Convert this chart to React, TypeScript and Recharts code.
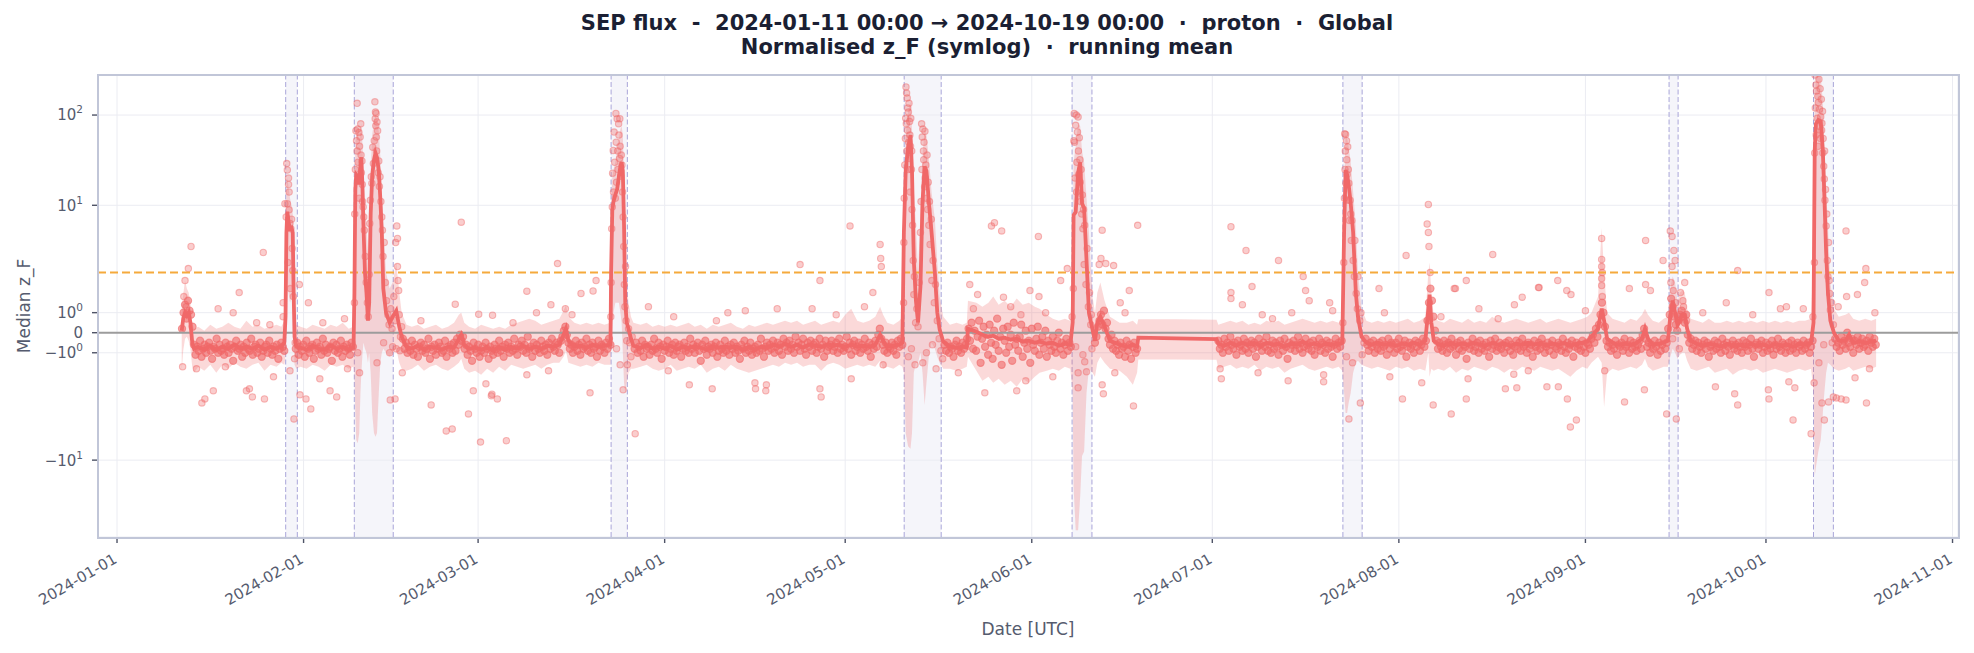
import React from "react";
import {
  ComposedChart,
  XAxis,
  YAxis,
  CartesianGrid,
  Line,
  Area,
  Scatter,
  ReferenceArea,
  ReferenceLine,
} from "recharts";

// x values are days since 2024-01-01 (UTC)
const monthTicks = [0, 31, 60, 91, 121, 152, 182, 213, 244, 274, 305];
const monthLabels = [
  "2024-01-01", "2024-02-01", "2024-03-01", "2024-04-01", "2024-05-01", "2024-06-01",
  "2024-07-01", "2024-08-01", "2024-09-01", "2024-10-01", "2024-11-01",
];
const xDomain: [number, number] = [-3.16, 305.91];

// symlog axis (linthresh 5, linscale 1, base 10)
const linthresh = 5;
const linscaleAdj = 1 / (1 - 1 / 10);
const symlog = (v: number) => {
  const a = Math.abs(v);
  if (a <= linthresh) return v * linscaleAdj;
  return Math.sign(v) * linthresh * (linscaleAdj + Math.log10(a / linthresh));
};

const yTickValues = [-10, -1, 0, 1, 10, 100];
const yTickBase = ["\u221210", "\u221210", "0", "10", "10", "10"];
const yTickExp = ["1", "0", "", "0", "1", "2"];
const yDomain: [number, number] = [-11.32, 14.28];

const threshold = 3;

// flagged SEP event windows
const eventStarts = [28.03, 39.43, 82.1, 130.8, 158.7, 203.7, 257.9, 281.9];
const eventEnds = [29.96, 45.9, 84.8, 136.95, 162.0, 206.9, 259.4, 285.2];

// running mean: [day, mean, band low, band high]
const runningMean: [number, number, number, number][] = [
  [10.75, 0.1, -1.9, 1.3], [11.0, 0.7, -0.9, 1.9], [11.3, 1.0, -0.3, 2.6], [11.6, 0.85, -0.2, 2.2],
  [11.9, 1.0, -0.4, 2.0], [12.2, 0.5, -0.8, 1.5], [12.5, -0.5, -1.7, 0.5], [12.8, -0.8, -2.0, 0.2],
  [13.5, -0.7, -1.7, 0.3], [14.5, -0.85, -1.9, 0.1], [15.5, -0.65, -1.6, 0.4], [16.5, -0.85, -2.0, 0.2],
  [17.5, -0.7, -1.6, 0.3], [18.5, -0.8, -1.8, 0.5], [19.5, -0.6, -1.5, 0.3], [20.5, -0.8, -1.7, 0.2],
  [21.5, -0.7, -1.8, 0.6], [22.5, -0.8, -1.6, 0.3], [23.5, -0.65, -1.5, 0.4], [24.5, -0.85, -1.9, 0.2],
  [25.5, -0.7, -1.6, 0.3], [26.5, -0.8, -1.7, 0.4], [27.3, -0.7, -1.5, 0.3], [27.8, -0.5, -1.6, 0.6],
  // event 1
  [28.0, 0.8, -1.2, 3], [28.15, 5, 0.5, 15], [28.3, 8.5, 2.5, 20], [28.5, 6.5, 2, 16],
  [28.75, 5.5, 1.5, 12], [29.0, 5.6, 1.8, 10], [29.2, 5, 1.2, 8], [29.35, 2, -0.5, 4.5],
  [29.5, -0.2, -1.6, 1.2], [29.8, -0.7, -1.8, 0.4],
  [30.5, -0.75, -1.7, 0.3], [31.5, -0.85, -1.8, 0.2], [32.5, -0.65, -1.6, 0.4], [33.5, -0.8, -1.7, 0.3],
  [34.5, -0.85, -1.9, 0.2], [35.5, -0.65, -1.6, 0.4], [36.5, -0.8, -1.7, 0.3], [37.5, -0.7, -1.6, 0.5],
  [38.5, -0.85, -1.8, 0.2], [39.3, -0.75, -1.7, 0.3],
  // event 2
  [39.45, 2, -2, 8], [39.6, 15, -4, 45], [39.75, 22, -6, 60], [40.0, 21, -6.5, 65],
  [40.25, 17, -5, 50], [40.45, 28, -3, 70], [40.6, 34, -2, 80], [40.8, 15, -1, 45],
  [40.95, 6, -0.5, 20], [41.2, 3, -0.8, 9], [41.45, 2, -1, 6], [41.7, 0.6, -1.5, 4],
  [41.9, 1.5, -1, 6], [42.15, 8, -2, 25], [42.4, 21, -4, 60], [42.7, 32, -5, 85],
  [42.95, 38, -5.5, 100], [43.2, 34, -5, 90], [43.5, 24, -3, 65], [43.75, 12, -1.5, 35],
  [44.0, 5, -1, 14], [44.25, 2.2, -0.8, 6], [44.7, 1, -1, 3], [45.3, 0.5, -1.2, 2.2],
  [45.8, 0.8, -1, 2.5], [46.4, 1.1, -0.8, 3.5], [46.9, 0.3, -1.5, 2], [47.3, -0.2, -1.8, 1],
  [48.1, -0.7, -1.9, 0.4],
  [49, -0.8, -1.8, 0.3], [50, -0.65, -1.6, 0.4], [51, -0.85, -1.9, 0.2], [52, -0.7, -1.7, 0.3],
  [53, -0.75, -1.6, 0.4], [54, -0.85, -1.8, 0.2], [55, -0.7, -1.9, 0.3], [56, -0.75, -1.7, 0.5],
  [56.8, -0.3, -1.5, 0.9], [57.2, -0.1, -1.3, 1.0], [57.7, -0.6, -1.8, 0.5], [58.5, -0.8, -2.0, 0.3],
  [59.5, -0.75, -1.9, 0.2], [60.5, -0.85, -2.1, 0.4], [61.5, -0.75, -1.8, 0.3], [62.5, -0.9, -2.0, 0.2],
  [63.5, -0.7, -1.7, 0.3], [64.5, -0.85, -1.9, 0.2], [65.5, -0.7, -1.6, 0.4], [66.5, -0.8, -1.7, 0.5],
  [67.5, -0.65, -1.8, 0.6], [68.5, -0.8, -1.7, 0.7], [69.5, -0.7, -1.6, 0.6], [70.5, -0.8, -1.8, 0.4],
  [71.5, -0.65, -1.6, 0.5], [72.5, -0.7, -1.5, 0.6], [73.5, -0.6, -1.5, 0.7], [74.2, -0.1, -1.2, 1.1],
  [74.6, 0.2, -0.9, 1.4], [75.0, -0.4, -1.5, 0.8], [76, -0.7, -1.6, 0.5], [77, -0.65, -1.7, 0.4],
  [78, -0.75, -1.6, 0.5], [79, -0.6, -1.7, 0.4], [80, -0.7, -1.5, 0.5], [81, -0.65, -1.6, 0.4],
  [82.0, -0.6, -1.6, 0.5],
  // event 3
  [82.1, 3, -1, 8], [82.3, 9, 0.5, 20], [82.5, 11, 1, 25], [82.8, 13, 1.5, 30],
  [83.1, 15, 1.5, 40], [83.4, 21, 1.5, 55], [83.65, 27, 1, 70], [83.85, 30, 0.5, 75],
  [84.05, 24, -1, 60], [84.25, 6, -2.5, 20], [84.45, 1.5, -3, 6], [84.7, 0.5, -2.5, 2.5],
  [85.0, 0.2, -2, 1.5], [85.4, -0.3, -1.8, 0.8], [85.8, -0.65, -1.8, 0.5],
  [87, -0.75, -1.7, 0.4], [88, -0.6, -1.6, 0.5], [89, -0.8, -1.8, 0.3], [90, -0.7, -1.9, 0.4],
  [91, -0.8, -1.8, 0.3], [92, -0.65, -1.6, 0.4], [93, -0.85, -1.9, 0.3], [94, -0.7, -1.8, 0.4],
  [95, -0.75, -1.7, 0.5], [96, -0.7, -1.8, 0.3], [97, -0.75, -1.6, 0.4], [98, -0.85, -2.0, 0.2],
  [99, -0.7, -1.8, 0.4], [100, -0.75, -1.7, 0.3], [101, -0.7, -1.9, 0.4], [102, -0.75, -1.6, 0.5],
  [103, -0.7, -1.8, 0.3], [104, -0.85, -1.9, 0.2], [105, -0.7, -2.0, 0.4], [106, -0.85, -1.9, 0.3],
  [107, -0.7, -1.8, 0.4], [108, -0.75, -1.7, 0.5], [109, -0.6, -1.6, 0.4], [110, -0.7, -1.7, 0.5],
  [111, -0.55, -1.5, 0.6], [112, -0.7, -1.6, 0.5], [113, -0.6, -1.5, 0.6], [114, -0.75, -1.7, 0.4],
  [115, -0.6, -1.6, 0.5], [116, -0.65, -1.6, 0.6], [117, -0.7, -1.9, 0.4], [118, -0.6, -1.6, 0.5],
  [119, -0.65, -1.5, 0.6], [120, -0.6, -1.6, 0.5], [121, -0.7, -1.8, 0.9], [122, -0.6, -1.7, 1.2],
  [123, -0.7, -1.6, 0.6], [124, -0.65, -1.7, 0.5], [125, -0.7, -1.6, 0.6], [126, -0.6, -1.7, 0.8],
  [126.8, -0.1, -1.4, 1.3], [127.3, -0.4, -1.8, 0.9], [128, -0.7, -1.7, 0.5], [129, -0.65, -1.8, 0.4],
  [130, -0.6, -1.6, 0.6], [130.5, -0.5, -1.7, 0.8],
  // event 4
  [130.75, 5, -2, 12], [131.05, 24, -5, 60], [131.45, 44, -7, 110], [131.85, 60, -7.5, 140],
  [132.1, 24, -5, 70], [132.4, 3.6, -2, 15], [132.75, 1.6, -1.5, 6], [133.1, 0.5, -1.5, 3],
  [133.5, 2.3, -1, 8], [133.85, 11, -2, 35], [134.2, 27, -3.6, 70], [134.5, 24, -2.5, 60],
  [134.95, 10, -1, 30], [135.35, 5, -0.5, 14], [135.9, 3, -0.8, 7], [136.3, 1, -1.2, 3.5],
  [136.7, 0.15, -1.5, 1.8], [137.3, -0.45, -1.8, 0.8], [138.4, -0.7, -1.8, 0.4], [139.5, -0.75, -1.9, 0.5],
  [140.5, -0.7, -1.8, 0.4], [141.2, -0.75, -1.7, 0.5], [141.4, 0.2, -1.2, 1.6], [142.8, 0.05, -1.9, 1.5],
  [143.8, -0.1, -2.4, 1.3], [144.8, -0.2, -2.2, 1.5], [145.6, -0.15, -2.5, 1.8], [146.5, -0.3, -2.3, 1.4],
  [147.5, -0.25, -2.6, 1.6], [148.5, -0.35, -2.4, 1.3], [149.5, -0.3, -2.7, 1.7], [150.5, -0.45, -2.3, 1.4],
  [151.5, -0.4, -2.5, 1.5], [152.5, -0.5, -2.2, 1.3], [153.3, -0.45, -2.0, 1.2], [154.5, -0.55, -1.9, 0.9],
  [155.5, -0.5, -1.8, 0.7], [156.5, -0.65, -1.9, 0.6], [157.5, -0.55, -1.7, 0.7], [158.4, -0.6, -1.8, 0.6],
  // event 5
  [158.8, 0.5, -3, 3], [158.95, 7.8, -20, 30], [159.3, 8.4, -60, 45], [159.7, 23, -60, 80],
  [160.05, 30, -25, 75], [160.35, 10.5, -9, 40], [160.7, 9.3, -8, 30], [161.1, 3.6, -3, 12],
  [161.5, 1, -1.8, 5], [162.1, 0.15, -2, 1.8], [162.5, -0.4, -2.2, 1], [162.9, 0.5, -1.5, 2],
  [163.4, 0.8, -1.2, 2.5], [164.1, 0.3, -1.5, 1.6], [165.0, -0.4, -1.8, 0.8], [166.6, -0.6, -1.9, 0.5],
  [167.8, -0.7, -2.2, 0.5], [168.8, -0.6, -2.6, 0.6], [169.5, -0.7, -2.0, 0.4],
  // data gap
  [169.7, -0.25, -1.33, 0.67], [176, -0.28, -1.33, 0.67], [182.7, -0.32, -1.35, 0.65],
  [183.0, -0.55, -1.8, 0.4], [184, -0.65, -1.7, 0.5], [185, -0.5, -1.6, 0.6], [186, -0.65, -1.8, 0.5],
  [187, -0.5, -1.7, 0.6], [188, -0.6, -1.8, 0.4], [189, -0.5, -1.6, 0.5], [190, -0.65, -1.9, 0.4],
  [191, -0.5, -1.7, 0.6], [192, -0.6, -1.8, 0.5], [193, -0.55, -1.7, 0.6], [194, -0.7, -2.0, 0.4],
  [195, -0.55, -1.8, 0.5], [196, -0.6, -1.7, 0.6], [197, -0.45, -1.6, 0.7], [198, -0.6, -1.8, 0.6],
  [199, -0.55, -1.9, 0.5], [200, -0.65, -1.8, 0.6], [201, -0.55, -1.7, 0.5], [202, -0.6, -1.8, 0.6],
  [203, -0.55, -1.7, 0.5], [203.6, -0.5, -1.9, 0.7],
  // event 6
  [203.9, 5, -3, 15], [204.15, 24.5, -4, 60], [204.4, 22, -4, 55], [204.65, 17, -3.5, 45],
  [205.0, 10.5, -3, 30], [205.4, 5, -2, 14], [205.85, 2, -1.5, 6], [206.2, 0.8, -1.4, 3],
  [206.8, -0.2, -1.6, 1.2], [207.6, -0.5, -1.7, 0.6],
  [208.5, -0.6, -1.8, 0.5], [209.5, -0.5, -1.7, 0.6], [210.5, -0.6, -1.8, 0.5], [211.5, -0.55, -1.9, 0.6],
  [212.5, -0.65, -1.7, 0.5], [213.5, -0.55, -1.8, 0.6], [214.5, -0.6, -1.7, 0.7], [215.5, -0.5, -1.9, 0.5],
  [216.5, -0.6, -1.8, 0.6], [217.4, -0.4, -1.9, 0.8], [217.9, 1.2, -1, 3], [218.1, 1.9, -2.2, 3.5],
  [218.4, 0.5, -1.8, 2], [218.8, -0.4, -1.9, 0.8], [219.5, -0.55, -1.8, 0.6], [220.5, -0.65, -1.9, 0.5],
  [221.5, -0.5, -1.7, 0.7], [222.5, -0.6, -2.0, 0.6], [223.5, -0.55, -1.8, 0.5], [224.5, -0.6, -1.9, 0.7],
  [225.5, -0.5, -1.7, 0.5], [226.5, -0.6, -1.8, 0.6], [227.5, -0.65, -1.9, 0.5], [228.5, -0.5, -1.7, 0.8],
  [229.5, -0.6, -1.8, 0.6], [230.5, -0.55, -2.0, 0.5], [231.5, -0.65, -1.8, 0.6], [232.5, -0.55, -1.9, 0.7],
  [233.5, -0.6, -1.7, 0.6], [234.5, -0.5, -1.8, 0.5], [235.5, -0.6, -1.9, 0.6], [236.5, -0.5, -1.7, 0.7],
  [237.5, -0.65, -1.8, 0.5], [238.5, -0.55, -1.9, 0.6], [239.5, -0.6, -1.8, 0.7], [240.5, -0.5, -2.0, 0.6],
  [241.5, -0.65, -2.2, 0.5], [242.5, -0.55, -1.9, 0.6], [243.5, -0.5, -1.7, 0.7], [244.3, -0.45, -1.8, 0.8],
  [245.0, -0.2, -1.5, 1], [246.1, 0.2, -1.2, 1.8], [246.7, 1.2, -1.5, 5.6], [247.1, 0.6, -3.7, 3],
  [247.6, -0.3, -2.0, 1], [248.5, -0.5, -1.8, 0.7], [249.5, -0.6, -1.9, 0.6], [250.5, -0.55, -1.8, 0.5],
  [251.5, -0.6, -1.7, 0.7], [252.5, -0.5, -1.8, 0.6], [253.4, -0.3, -1.6, 0.9], [253.9, 0.2, -1.3, 1.2],
  [254.4, -0.3, -1.7, 0.9], [255.2, -0.6, -1.9, 0.6], [256.2, -0.55, -1.8, 0.5], [257.0, -0.5, -1.7, 0.7],
  // event 7
  [257.7, -0.4, -1.7, 0.8], [258.1, 0.8, -1.2, 2.2], [258.5, 1.6, -0.8, 2.8], [258.9, 1.0, -1, 2.5],
  [259.3, 0.4, -1.3, 1.6], [259.7, 0.6, -1.1, 2], [260.1, 0.9, -1, 2.1], [260.5, 0.9, -1, 2],
  [260.9, 0.2, -1.4, 1.2], [261.5, -0.4, -1.8, 0.7],
  [262.5, -0.55, -1.9, 0.6], [263.5, -0.65, -1.8, 0.5], [264.5, -0.55, -1.7, 0.7], [265.5, -0.6, -2.0, 0.5],
  [266.5, -0.7, -1.9, 0.5], [267.5, -0.55, -1.8, 0.6], [268.5, -0.65, -2.1, 0.5], [269.5, -0.6, -1.9, 0.6],
  [270.5, -0.7, -1.8, 0.5], [271.5, -0.55, -1.9, 0.6], [272.5, -0.65, -1.8, 0.5], [273.5, -0.6, -2.0, 0.6],
  [274.5, -0.7, -1.9, 0.5], [275.5, -0.55, -1.8, 0.6], [276.5, -0.65, -1.9, 0.5], [277.5, -0.6, -2.0, 0.6],
  [278.5, -0.7, -1.9, 0.5], [279.5, -0.55, -1.8, 0.6], [280.5, -0.6, -1.9, 0.6], [281.5, -0.5, -1.8, 0.7],
  // event 8
  [281.9, 0.5, -3, 4], [282.1, 40, -15, 150], [282.3, 80, -12, 250], [282.7, 88, -8, 280],
  [283.1, 85, -6, 270], [283.45, 40, -4, 140], [283.7, 13, -3, 50], [284.0, 4, -2, 15],
  [284.3, 2, -1.5, 6], [284.7, 0.6, -1.6, 2.5], [285.3, 0, -1.8, 1.2], [286.1, -0.4, -1.9, 0.8],
  [287.2, -0.4, -1.8, 0.9], [287.8, -0.1, -1.7, 1.0], [288.5, -0.5, -1.9, 0.7], [289.5, -0.45, -1.8, 0.6],
  [290.5, -0.5, -1.7, 0.7], [291.5, -0.45, -1.8, 0.6], [292.3, -0.4, -1.7, 0.7],
];

// samples every 6 h in the quiet stretches
const cloudStep = 0.25;
const cloudJan = [
  0.2, 1.0, 1.4, 0.7, 1.6, 1.1, 0.9, 0.3,
  -0.6, -1.1, -0.7, -0.9, -0.4, -1.2, -0.8, -0.6, -1.0, -0.7,
  -0.5, -0.9, -1.3, -0.7, -0.8, -0.3, -1.0, -0.6, -0.9, -0.8,
  -1.1, -0.5, -0.7, -1.0, -0.6, -0.8, -1.4, -0.7, -0.4, -0.9,
  -0.8, -0.6, -1.2, -0.7, -1.0, -0.5, -0.8, -0.9, -0.3, -1.1,
  -0.7, -0.6, -1.0, -0.8, -0.5, -1.2, -0.9, -0.7, -0.6, -1.0,
  -0.4, -0.8, -1.1, -0.7, -0.9, -0.6, -1.3, -0.8, -0.5, -0.7, -0.9,
];
const cloudFeb = [
  -0.8, -0.5, -1.1, -0.7, -0.9, -0.6, -1.2, -0.4, -0.8, -1.0,
  -0.7, -0.6, -1.3, -0.9, -0.5, -0.8, -0.7, -1.1, -0.3, -0.9,
  -0.6, -1.0, -0.8, -0.7, -1.4, -0.5, -0.9, -0.6, -1.0, -0.8,
  -0.4, -1.2, -0.7, -0.9, -0.6, -0.8, -1.1, -0.5, -0.7,
];
const cloudMar = [
  -0.3, -0.8, -0.5, -1.0, -0.7, -0.9, -0.4, -1.1, -0.6, -0.8,
  -1.2, -0.7, -0.5, -0.9, -0.6, -1.0, -0.8, -0.3, -1.3, -0.7,
  -0.9, -0.6, -1.1, -0.8, -0.5, -0.7, -1.0, -0.9, -0.4, -1.2,
  -0.7, -0.8, -0.6, -1.0, -0.5, -0.9, -0.3, -0.6, -0.1, -0.4,
  -0.2, -0.8, -0.6, -1.1, -0.7, -0.9, -1.4, -0.5, -0.8, -1.0,
  -0.6, -1.2, -0.9, -0.7, -1.0, -0.5, -0.8, -1.3, -0.7, -0.9,
  -1.1, -0.6, -0.8, -1.0, -0.4, -0.9, -0.7, -1.2, -0.6, -0.8,
  -0.5, -1.0, -0.7, -0.9, -0.3, -0.8, -1.1, -0.6, -0.7, -0.4,
  -0.9, -0.6, -1.0, -0.2, -0.8, -0.7, -1.2, -0.5, -0.9, -0.6,
  -0.8, -1.0, -0.4, -0.7, -0.9, -0.6, -1.1, -0.5, -0.8, -0.3,
  -0.7, -0.9, -0.5, -0.6, -1.0, -0.4, -0.2, 0.1, 0.3, -0.1,
  -0.5, -0.8, -0.6, -1.0, -0.7, -0.4, -0.9, -0.6, -1.1, -0.5,
  -0.8, -0.7, -0.3, -0.9, -0.6, -1.0, -0.5, -0.8, -0.7, -1.2,
  -0.4, -0.9, -0.6, -0.7, -1.0, -0.5, -0.8, -0.3, -0.6,
];
const cloudApr = [
  -0.8, -0.5, -1.0, -0.7, -0.9, -0.4, -1.2, -0.6, -0.8, -0.7,
  -1.1, -0.6, -0.9, -0.3, -0.8, -1.0, -0.5, -0.7, -1.3, -0.6,
  -0.9, -0.7, -0.4, -1.0, -0.8, -0.6, -1.1, -0.5, -0.9, -0.7,
  -0.6, -1.2, -0.8, -0.5, -0.9, -0.7, -1.0, -0.3, -0.8, -0.6,
  -1.0, -0.7, -0.5, -0.9, -1.4, -0.6, -0.8, -0.4, -1.1, -0.7,
  -0.8, -0.6, -1.0, -0.7, -0.5, -1.2, -0.9, -0.6, -0.8, -1.0,
  -0.4, -0.9, -0.7, -1.1, -0.6, -0.8, -0.5, -1.0, -0.7, -0.9,
  -1.3, -0.6, -0.8, -0.4, -1.0, -0.7, -0.9, -0.5, -1.1, -0.8,
  -0.7, -1.0, -0.6, -0.9, -0.3, -0.8, -1.2, -0.7, -0.5, -0.9,
  -0.6, -0.8, -0.4, -1.0, -0.7, -0.5, -0.9, -0.6, -1.1, -0.3,
  -0.7, -0.5, -0.9, -0.4, -0.8, -0.6, -1.0, -0.2, -0.7, -0.5,
  -0.9, -0.6, -0.3, -0.8, -1.1, -0.5, -0.7, -0.4, -0.9, -0.6,
  -0.5, -1.0, -0.7, -0.3, -0.8, -0.6, -1.2, -0.4, -0.9, -0.7,
  -0.6, -0.4, -0.9, -0.7, -0.5, -1.0, -0.3, -0.8, -0.6, -0.9,
  -0.7, -0.2, -0.8, -0.5, -1.1, -0.6, -0.4, -0.9, -0.7, -0.5,
  -1.0, -0.6, -0.8, -0.3, -0.7, -0.9, -0.5, -1.2, -0.6, -0.8,
  -0.4, -0.7, -0.1, 0.2, -0.3, -0.6, -0.9, -0.5, -1.0, -0.7,
  -0.8, -0.5, -0.9, -0.6, -1.1, -0.4, -0.7, -0.3, -0.6,
];
const cloudMay = [
  -0.6, -0.9, -0.5, -1.0, -0.7, -0.8, -1.2, -0.6, -0.4, -0.9,
  -0.7, -1.0, -0.5, -0.8, -0.6, -0.3, 0.2, -0.4, 0.5, -0.8,
  0.1, -0.9, -0.2, 0.6, -1.5, -0.3, 0.3, -0.7, -0.1, -1.1,
  0.4, -0.5, -1.3, 0.1, -0.6, 0.7, -0.9, -0.2, -1.6, 0.2,
  -0.4, -1.0, 0.3, -0.7, -0.1, -1.4, 0.5, -0.6, -0.3, -0.9,
  -0.2, 0.4, -1.2, -0.5, 0.1, -0.8, -0.4, -1.5, 0.2, -0.6,
  -0.9, -0.3, 0.3, -1.1, -0.5, -0.2, -0.8, 0.1, -1.2, -0.4,
  -0.6, -0.9, -0.2, -0.7, -1.0, -0.4, 0.0, -0.8, -0.5, -1.1,
  -0.6, -0.3, -0.9, -0.5, -0.7,
];
const cloudJun = [
  -0.5, -0.2, 0.3, 0.6, 0.9, 0.4, 1.1, 0.2, 0.5, -0.3,
  -0.6, -0.1, -0.8, -0.4, -0.9, -0.6, -1.1, -0.5, -0.8, -0.7,
  -1.2, -0.4, -0.9, -0.6, -1.3, -0.7, -0.5, -1.0, -0.8,
];
const cloudJul = [
  -0.4, -0.8, -0.6, -1.0, -0.3, -0.7, -0.5, -0.9, -0.2, -0.6,
  -0.8, -0.5, -1.1, -0.4, -0.7, -0.6, -0.9, -0.3, -0.8, -0.5,
  -1.0, -0.6, -0.4, -0.8, -0.5, -1.2, -0.7, -0.3, -0.6, -0.9,
  -0.5, -0.7, -0.2, -0.9, -0.6, -1.0, -0.4, -0.8, -0.5, -0.7,
  -1.1, -0.4, -0.6, -0.9, -0.3, -0.7, -1.3, -0.5, -0.8, -0.6,
  -0.4, -0.9, -0.6, -0.2, -0.8, -0.5, -1.0, -0.7, -0.3, -0.6,
  -0.8, -0.5, -0.9, -0.4, -1.1, -0.6, -0.7, -0.3, -0.9, -0.5,
  -0.6, -1.0, -0.4, -0.8, -0.5, -0.7, -1.2, -0.6, -0.3, -0.8,
  -0.5, -0.7, -0.4,
];
const cloudAug = [
  -0.3, -0.6, -0.9, -0.5, -0.7, -0.4, -1.0, -0.6, -0.8, -0.5,
  -0.9, -0.4, -0.7, -0.6, -1.1, -0.3, -0.8, -0.5, -0.6, -1.0,
  -0.5, -0.8, -0.3, -0.7, -0.9, -0.6, -0.4, -1.2, -0.7, -0.5,
  -0.8, -0.6, -1.0, -0.4, -0.7, -0.5, -0.9, -0.6, -0.3, -0.7,
  -0.4, 0.6, 1.5, 2.2, 1.6, 0.8, 0.1, -0.4, -0.8, -0.5,
  -0.7, -0.9, -0.4, -0.6, -1.0, -0.5, -0.8, -0.3, -0.7, -0.6,
  -1.1, -0.5, -0.8, -0.4, -0.9, -0.6, -0.7, -1.3, -0.5, -0.8,
  -0.6, -0.3, -0.9, -0.7, -0.5, -1.0, -0.4, -0.8, -0.6, -0.9,
  -0.5, -0.7, -1.2, -0.4, -0.8, -0.6, -0.3, -0.9, -0.7, -0.5,
  -0.8, -0.6, -1.0, -0.5, -0.7, -0.4, -0.9, -0.6, -1.1, -0.7,
  -0.4, -0.8, -0.5, -0.9, -0.3, -0.7, -0.6, -1.0, -0.5, -0.8,
  -0.6, -1.2, -0.4, -0.7, -0.9, -0.5, -0.8, -0.3, -0.6, -1.0,
  -0.7, -0.5, -0.9, -0.6, -0.4, -1.1, -0.7, -0.8, -0.5, -0.6,
  -0.9, -0.3, -0.7, -1.0, -0.5, -0.8, -0.6, -0.4, -1.2, -0.7,
  -0.5, -0.8, -0.6, -0.9, -0.4, -0.7, -1.0, -0.5, -0.6, -0.8,
  -0.3, -0.1, -0.5, 0.2, -0.2, 0.4, 0.9, 1.5, 1.0, 0.3,
  -0.4, -0.7, -0.5, -0.9, -0.6, -0.8, -0.4, -1.1, -0.6, -0.7,
  -0.5, -0.9, -0.3, -0.7, -0.6, -1.0, -0.4, -0.8, -0.5, -0.7,
  -0.9, -0.6, -0.4, -0.8, -0.1, 0.2, -0.3, -0.7, -0.5, -1.0,
  -0.6, -0.8, -0.4, -0.7, -1.1, -0.5, -0.9, -0.6, -0.3, -0.8,
  -0.5, 0.2, 0.9, 1.7, 1.3, 0.8, 0.4, 0.1, 0.6, 0.9,
  1.1, 0.8, 0.5, 0.9, -0.1, -0.5, -0.3, -0.8, -0.6, -0.4,
  -0.9, -0.5, -0.7, -1.0, -0.6, -0.4, -0.8, -0.5, -1.2, -0.7,
  -0.6, -0.9, -0.4, -0.8, -0.5, -0.7, -1.0, -0.3, -0.6, -0.9,
  -0.5, -0.7, -1.1, -0.6, -0.4, -0.8, -0.6, -0.9, -0.5, -0.7,
  -1.0, -0.4, -0.7, -0.5, -0.9, -0.6, -0.3, -0.8, -1.2, -0.6,
  -0.5, -0.8, -0.6, -0.4, -1.0, -0.7, -0.5, -0.9, -0.6, -0.8,
  -0.4, -1.1, -0.6, -0.8, -0.3, -0.7, -0.9, -0.5, -0.6, -1.0,
  -0.7, -0.5, -0.9, -0.4, -0.8, -0.6, -1.0, -0.5, -0.7, -0.6,
  -0.9, -0.4, -0.8, -0.6, -0.5, -1.0, -0.7, -0.4,
];
const cloudOct = [
  -0.3, -0.7, -0.5, -0.9, -0.2, -0.6, -0.4, -0.8, 0.0, -0.5,
  -0.7, -0.3, -1.0, -0.4, -0.6, -0.2, -0.8, -0.5, -0.3, -0.7,
  -0.6, -0.4, -0.9, -0.2, -0.5, -0.7, -0.3, -0.6,
];
const cloudStarts = [10.8, 29.7, 47.5, 86, 137.5, 162.5, 183, 207.5, 285.5];
const cloudRuns = [cloudJan, cloudFeb, cloudMar, cloudApr, cloudMay, cloudJun, cloudJul, cloudAug, cloudOct];

// individual samples around the events and the scattered outliers: [day, z_F]
const janPoints: [number, number][] = [
  [11.3, 2.6], [11.85, 3.2], [12.3, 4.3], [11.1, 1.8], [11.5, 1.3], [10.9, -1.7],
  [16.8, 1.2], [19.3, 1.0], [20.3, 2.0], [24.3, 4.0], [16.0, -2.9], [14.1, -3.5], [14.6, -3.3],
  [21.5, -2.9], [22.0, -2.8], [22.5, -3.2], [24.5, -3.3], [26.0, -2.2], [13.2, -1.8], [18.0, -1.7],
  [23.2, 0.5], [25.4, 0.4],
  [27.6, 1.5], [27.6, 0.8], [27.9, 10.4], [28.1, 7.4], [28.2, 29], [28.3, 24.6], [28.3, 10.4],
  [28.5, 20], [28.5, 17], [28.6, 14], [28.6, 8.9], [28.74, 6.3], [28.74, -1.9], [28.9, 5.5],
  [29.0, 7], [29.1, 4.2], [29.2, 3.1], [29.3, 1.8], [28.4, 3.5], [28.8, 2.2], [29.4, -4.3],
  [29.5, -1.3], [29.6, -0.5],
  [30.3, 2.4], [31.8, 1.5], [30.4, -3.1], [31.4, -3.3], [32.2, -3.8], [33.7, -2.3], [35.4, -2.9],
  [36.5, -3.2], [37.8, 0.7], [34.2, 0.5], [38.3, -1.8],
];
const febPoints: [number, number][] = [
  [39.45, 1.5], [39.5, 8], [39.6, 25], [39.7, 67], [39.8, 52], [39.9, 135], [39.9, 40], [40.0, 70],
  [40.05, 30], [40.1, 20], [40.2, 64], [40.25, 12], [40.3, 45], [40.4, 57], [40.5, 80], [40.55, 36],
  [40.6, 23], [40.7, 31], [40.75, 17], [40.8, 11], [40.9, 9.6], [41.0, 7.4], [41.1, 5.3], [41.25, 3.8],
  [41.4, 2.5], [41.6, 1.5], [41.75, 0.8], [41.9, 2.9], [42.0, 6.3], [42.1, 11.4], [42.25, 20.7],
  [42.35, 17.5], [42.5, 44], [42.6, 29], [42.75, 52], [42.85, 140], [42.9, 91], [42.95, 108],
  [43.0, 76], [43.05, 104], [43.1, 57], [43.15, 40], [43.2, 84], [43.3, 67], [43.4, 23], [43.5, 31],
  [43.6, 16.2], [43.7, 20.7], [43.85, 11], [44.0, 7.4], [44.1, 5.3], [44.2, 3.8], [44.4, 4.5],
  [44.6, 2.5], [44.8, 1.6], [45.0, 0.9], [45.2, 0.4], [45.4, -3.35], [46.2, -3.3], [45.5, 1.2],
  [45.7, 0.2], [46.0, 1.8], [46.3, 4.5], [46.5, 5.9], [46.6, 4.7], [46.6, 3.3], [46.7, 2.6],
  [46.8, 2.1], [46.2, 0.6], [46.9, 0.9], [47.1, -0.2], [47.3, 0.3], [47.4, -2.0], [40.0, -1.0],
  [40.3, -2.0], [43.2, -1.5], [44.3, -0.5], [45.8, -0.7], [46.4, -0.8], [47.0, -0.9], [45.3, -1.0],
  [57.2, 6.5], [73.2, 3.45], [68.1, 2.07], [56.2, 1.42], [60.1, 0.92], [62.4, 0.87], [69.7, 1.0],
  [72.1, 1.4], [77.1, 1.96], [79.1, 2.08], [79.6, 2.6], [52.2, -3.6], [54.7, -4.9], [55.7, -4.8],
  [59.2, -2.9], [58.4, -4.05], [61.3, -2.55], [62.3, -3.07], [62.2, -3.15], [63.2, -3.3],
  [60.4, -6.3], [64.7, -6.1], [68.1, -2.1], [71.7, -1.9], [78.6, -3.0], [50.5, 0.6], [65.8, 0.5],
  [74.5, 1.2], [75.6, 0.9],
];
const marPoints: [number, number][] = [
  [82.05, 0.8], [82.1, 2.5], [82.2, 5.5], [82.3, 9.6], [82.35, 22.7], [82.45, 40.6], [82.5, 14],
  [82.6, 64.7], [82.7, 30], [82.8, 12], [82.9, 104], [82.95, 50], [83.0, 18], [83.1, 91], [83.2, 40],
  [83.25, 25], [83.35, 80], [83.4, 60], [83.5, 33], [83.55, 91], [83.6, 45], [83.7, 21], [83.8, 36],
  [83.9, 28], [84.0, 14], [84.1, 7.4], [84.1, -2.85], [84.2, 4.3], [84.3, 2.4], [84.4, 1.3],
  [84.5, 3.3], [84.6, 0.6], [84.7, -0.4], [84.8, -1.6], [85.0, 0.2], [85.2, -0.5], [85.4, -1.2],
  [85.6, -0.2], [86.1, -5.1], [83.0, -0.8], [83.6, -1.6],
  [95.1, -2.6], [98.9, -2.8], [106.0, -2.5], [106.1, -2.8], [107.9, -2.6], [107.8, -2.9],
  [116.8, -2.8], [117.0, -3.2], [122.0, -2.3], [127.3, -1.6], [91.6, -1.9], [113.5, 3.4],
  [116.8, 2.6], [115.5, 1.2], [121.8, 5.9], [126.8, 4.4], [126.9, 3.7], [127.0, 3.3], [101.5, 1.0],
  [92.5, 0.8], [104.4, 1.1], [109.7, 1.2], [119.5, 0.9], [124.2, 1.3], [125.6, 2.0], [99.6, 0.6],
  [88.3, 1.3],
];
const mayPoints: [number, number][] = [
  [130.7, 1.5], [130.75, 4.5], [130.8, 12], [130.9, 28], [131.0, 55], [131.05, 92], [131.1, 205],
  [131.15, 80], [131.2, 175], [131.25, 40], [131.3, 155], [131.35, 68], [131.4, 120], [131.45, 25],
  [131.5, 108], [131.55, 50], [131.6, 135], [131.65, 33], [131.7, 85], [131.75, 60], [131.8, 14],
  [131.85, 45], [131.9, 92], [132.0, 25], [132.05, 40], [132.1, 9], [132.2, 6], [132.3, 3.6],
  [132.4, 1.9], [132.5, 2.8], [132.6, -1.6], [132.7, 0.5], [132.9, 1.2], [133.1, 0.3], [133.3, 2.5],
  [133.5, 5], [133.6, 11], [133.7, 80], [133.75, 25], [133.8, 57], [133.9, 70], [134.0, 40],
  [134.05, 32], [134.1, 50], [134.2, 16], [134.25, 66], [134.3, 20], [134.4, 28], [134.5, 12],
  [134.6, 36], [134.7, 9], [134.8, 18], [134.9, 6], [135.0, 11], [135.1, 4.4], [135.3, 7],
  [135.4, 2.6], [135.6, 3.6], [135.8, 1.5], [136.0, 2.4], [136.3, 0.6], [136.6, -0.3], [136.9, -0.9],
  [137.2, -1.3], [131.5, -1.2], [132.0, -0.8], [133.9, -1.5], [134.5, -1.0], [135.5, -0.6],
  [136.1, -1.8],
  [139.8, -2.0], [141.7, 2.4], [143.0, 1.9], [145.3, 5.9], [145.8, 6.4], [147.0, 5.2], [147.3, 1.77],
  [151.7, 2.1], [153.1, 4.8], [153.2, 1.8], [156.8, 2.6], [157.9, 3.2], [149.5, -2.9], [144.2, -3.0],
  [151.0, -2.4], [155.5, -2.2], [142.3, 1.2], [148.5, 1.3], [150.2, 0.9], [154.3, 1.0],
];
const junPoints: [number, number][] = [
  [158.7, 0.8], [158.9, 2.2], [159.0, 52], [159.05, 104], [159.1, 50], [159.2, 20], [159.3, 77],
  [159.4, 100], [159.45, 14], [159.5, 30], [159.6, 65], [159.7, 95], [159.75, 40], [159.8, 22],
  [159.9, 56], [160.0, 32], [160.05, 18], [160.1, 11], [160.2, 25], [160.3, 8], [160.4, 13],
  [160.5, 5.5], [160.6, 9], [160.7, 3.4], [160.8, 6], [161.0, 2.4], [161.2, 4.2], [161.4, 1.3],
  [161.6, 2.0], [161.8, 0.4], [159.7, -2.0], [159.7, -2.75], [161.1, -1.95], [160.8, -1.45],
  [162.0, -0.8], [161.9, 0.9], [159.3, -0.7], [160.5, -1.1],
  [163.7, 5.3], [163.5, 3.7], [164.3, 3.45], [165.6, 3.35], [163.2, 3.4], [168.2, 2.1], [169.6, 6.0],
  [163.7, -2.6], [163.9, -3.05], [168.9, -3.65], [165.8, -2.0], [166.7, 1.5], [167.5, 1.0],
];
const julPoints: [number, number][] = [
  [185.1, 5.8], [187.6, 4.1], [193.0, 3.6], [185.1, 2.0], [185.1, 1.7], [187.0, 1.4], [188.6, 2.3],
  [197.1, 2.8], [197.5, 2.1], [198.1, 1.6], [201.5, 1.5], [202.0, 1.1], [194.6, -2.4], [200.5, -2.1],
  [200.5, -2.45], [183.5, -2.3], [183.3, -1.8], [190.3, 0.9], [195.2, 1.0], [189.6, -2.0], [192.0, 0.7],
  [203.7, 0.5], [203.85, 3.5], [203.95, 12], [204.0, 62], [204.05, 25], [204.1, 40], [204.15, 61],
  [204.2, 17.5], [204.3, 52], [204.35, 32], [204.4, 22], [204.5, 44.5], [204.55, 11.4], [204.6, 25],
  [204.7, 17.5], [204.8, 6.8], [204.9, 11.4], [205.0, 8], [205.1, 4.6], [205.2, 6.8], [205.4, 3.6],
  [205.6, 2.8], [205.7, 4.6], [205.9, 1.96], [206.1, 1.2], [206.2, 2.8], [206.5, 0.6], [206.7, 1.0],
  [204.7, -4.3], [206.6, -3.5], [205.3, -1.5], [204.3, -1.2], [206.9, -1.1], [207.2, -0.5],
];
const augPoints: [number, number][] = [
  [217.9, 10.2], [217.7, 6.2], [217.9, 5.0], [218.0, 4.3], [218.2, 3.0], [214.2, 3.85], [209.7, 2.2],
  [222.2, 2.2], [222.4, 2.2], [224.2, 2.6], [228.6, 3.9], [233.5, 1.77], [232.2, 1.4], [236.2, 2.25],
  [213.6, -3.3], [216.8, -2.5], [218.7, -3.6], [221.7, -4.05], [224.2, -3.3], [224.5, -2.3],
  [230.7, -2.8], [232.6, -2.75], [232.1, -2.07], [234.5, -1.9], [236.3, 2.25], [239.4, 2.6],
  [240.9, 2.1], [241.6, 1.9], [251.3, 2.2], [254.0, 2.4], [254.8, 2.1], [254.0, 4.6], [256.9, 3.6],
  [246.7, 4.7], [246.7, 3.65], [246.7, 3.3], [246.8, 3.0], [246.7, 2.7], [246.7, 2.35], [246.8, 1.8],
  [237.6, -2.7], [239.5, -2.7], [241.0, -3.3], [241.5, -4.7], [242.5, -4.35], [250.5, -3.45],
  [253.8, -2.85], [210.6, 1.0], [226.3, 1.2], [244.0, 1.1], [211.5, -2.2], [220.0, 0.8], [229.5, 0.7],
  [247.2, -1.9],
];
const sepPoints: [number, number][] = [
  [258.1, 5.2], [258.4, 4.8], [258.7, 4.1], [258.9, 3.6], [258.4, 3.3], [258.2, 2.5], [258.6, 2.1],
  [259.0, 1.5], [259.4, 0.8], [259.8, 2.0], [260.2, 1.6], [260.5, 2.5], [260.3, 1.3], [260.8, 0.6],
  [257.5, -4.05], [259.1, -4.3], [258.5, -0.3], [259.6, -0.8],
  [265.6, -2.7], [268.8, -3.05], [269.3, -3.6], [274.4, -2.85], [274.5, -3.3], [277.8, -2.45],
  [278.5, -4.35], [278.8, -2.75], [267.4, 1.5], [269.3, 3.1], [274.5, 2.0], [277.4, 1.3],
  [276.4, 1.2], [263.5, 1.0], [271.8, 0.9], [280.2, 1.2],
];
const octPoints: [number, number][] = [
  [281.5, -5.1], [281.8, 0.8], [282.0, -2.5], [282.05, 3.5], [282.1, 38], [282.15, 277], [282.2, 120],
  [282.3, 215], [282.35, 60], [282.4, 185], [282.5, 92], [282.6, 162], [282.65, 45], [282.7, 138],
  [282.8, 250], [282.85, 75], [282.9, 116], [283.0, 196], [283.05, 55], [283.1, 96], [283.2, 150],
  [283.25, 68], [283.3, 81], [283.4, 110], [283.45, 38], [283.5, 55], [283.6, 27], [283.7, 19.5],
  [283.75, 40], [283.8, 11.4], [283.9, 15], [284.0, 5.9], [284.1, 8], [284.2, 3.6], [284.3, 2.8],
  [284.4, 4.5], [284.5, 2.6], [284.6, 1.96], [284.7, 1.13], [284.9, 1.5], [283.3, -3.5],
  [284.4, -3.45], [283.7, -4.35], [282.8, -1.5], [283.6, -0.6], [285.2, -3.2], [285.0, -0.5],
  [285.2, 0.4],
  [285.7, -3.25], [286.5, -3.3], [287.3, -3.35], [288.8, -2.25], [290.7, -3.5], [287.3, 5.2],
  [290.6, 3.2], [290.4, 2.5], [289.2, 1.9], [287.4, 1.8], [292.1, 1.0], [286.0, 1.3], [291.2, -1.8],
];

const C = {
  line: "#f06868",
  axisText: "#555b6e",
  title: "#1b1f33",
  grid: "#ebecf2",
  frame: "#c1c6d8",
  event: "#f5f5fa",
  eventEdge: "#a9a5d9",
  zero: "#9c9c9c",
  threshold: "#f5aa3c",
};
const FONT = "DejaVu Sans, Verdana, sans-serif";

const meanData = runningMean.map(([d, m]) => ({ x: d, y: symlog(m) }));
const bandData = runningMean.map(([d, , lo, hi]) => ({ x: d, range: [symlog(lo), symlog(hi)] }));
const cloudData = cloudRuns.flatMap((vals, k) =>
  vals.map((v, i) => ({ x: cloudStarts[k] + i * cloudStep, y: symlog(v) }))
);
const spotData = [janPoints, febPoints, marPoints, mayPoints, junPoints, julPoints, augPoints, sepPoints, octPoints]
  .flat()
  .map(([d, v]) => ({ x: d, y: symlog(v) }));
const yTicks = yTickValues.map(symlog);

const XTick = (props: any) => {
  const { x, y, payload } = props;
  const i = monthTicks.indexOf(payload.value);
  const ax = x + 1;
  const ay = y + 17;
  return (
    <text
      x={ax}
      y={ay}
      transform={`rotate(-30 ${ax} ${ay})`}
      textAnchor="end"
      fontFamily={FONT}
      fontSize={15}
      fill={C.axisText}
    >
      {monthLabels[i]}
    </text>
  );
};

const YTick = (props: any) => {
  const { x, y, payload } = props;
  const i = yTicks.findIndex((t) => Math.abs(t - payload.value) < 1e-6);
  return (
    <text x={x} y={y} dy="0.36em" textAnchor="end" fontFamily={FONT} fontSize={15} fill={C.axisText}>
      <tspan>{yTickBase[i]}</tspan>
      {yTickExp[i] && (
        <tspan dy={-7} fontSize={10.5}>
          {yTickExp[i]}
        </tspan>
      )}
    </text>
  );
};

// dense quiet-time samples overlap far more in the original, so they are drawn a bit stronger
const CloudDot = (props: any) => (
  <circle
    cx={props.cx}
    cy={props.cy}
    r={3.6}
    fill={C.line}
    fillOpacity={0.6}
    stroke={C.line}
    strokeOpacity={0.6}
    strokeWidth={1.1}
  />
);
const SpotDot = (props: any) => (
  <circle
    cx={props.cx}
    cy={props.cy}
    r={3.2}
    fill={C.line}
    fillOpacity={0.33}
    stroke={C.line}
    strokeOpacity={0.45}
    strokeWidth={1.1}
  />
);

export default function App() {
  return (
    <div style={{ position: "absolute", left: 0, top: 0, width: 1974, height: 653, background: "#fff" }}>
      <div
        style={{
          position: "absolute",
          left: 0,
          top: 11,
          width: 1974,
          textAlign: "center",
          fontFamily: FONT,
          fontWeight: "bold",
          fontSize: 21,
          lineHeight: "24px",
          color: C.title,
          whiteSpace: "pre",
        }}
      >
        {"SEP flux  -  2024-01-11 00:00 \u2192 2024-10-19 00:00  \u00b7  proton  \u00b7  Global"}
        <br />
        {"Normalised z_F (symlog)  \u00b7  running mean"}
      </div>

      <ComposedChart width={1974} height={653} margin={{ top: 75, right: 16, bottom: 0, left: 0 }}>
        {eventStarts.map((s, i) => (
          <ReferenceArea
            key={`ev${i}`}
            x1={s}
            x2={eventEnds[i]}
            fill={C.event}
            fillOpacity={1}
            stroke="none"
            ifOverflow="visible"
            zIndex={-200}
          />
        ))}
        <CartesianGrid stroke={C.grid} strokeWidth={1} zIndex={-100} />
        {eventStarts.map((s, i) => (
          <ReferenceLine key={`es${i}`} x={s} stroke={C.eventEdge} strokeWidth={1} strokeDasharray="5 2.5" zIndex={-50} />
        ))}
        {eventEnds.map((e, i) => (
          <ReferenceLine key={`ee${i}`} x={e} stroke={C.eventEdge} strokeWidth={1} strokeDasharray="5 2.5" zIndex={-50} />
        ))}
        <XAxis
          type="number"
          dataKey="x"
          domain={xDomain}
          ticks={monthTicks}
          interval={0}
          allowDataOverflow
          height={116}
          axisLine={false}
          tickSize={6}
          tickLine={{ stroke: "#4e5366", strokeWidth: 1.4 }}
          tick={<XTick />}
        />
        <YAxis
          type="number"
          domain={yDomain}
          ticks={yTicks}
          interval={0}
          allowDataOverflow
          width={98}
          axisLine={false}
          tickSize={6}
          tickMargin={9}
          tickLine={{ stroke: "#4e5366", strokeWidth: 1.4 }}
          tick={<YTick />}
        />
        <Area
          data={bandData}
          dataKey="range"
          type="linear"
          fill={C.line}
          fillOpacity={0.25}
          stroke="none"
          isAnimationActive={false}
          zIndex={100}
        />
        <Scatter data={cloudData} dataKey="y" shape={<CloudDot />} isAnimationActive={false} zIndex={200} />
        <Scatter data={spotData} dataKey="y" shape={<SpotDot />} isAnimationActive={false} zIndex={210} />
        <ReferenceLine y={0} stroke={C.zero} strokeWidth={2} zIndex={250} />
        <ReferenceLine y={symlog(threshold)} stroke={C.threshold} strokeWidth={2} strokeDasharray="8 4" zIndex={300} />
        <Line
          data={meanData}
          dataKey="y"
          type="linear"
          stroke={C.line}
          strokeWidth={3.8}
          dot={false}
          isAnimationActive={false}
          zIndex={400}
        />
      </ComposedChart>

      <div
        style={{
          position: "absolute",
          left: 97,
          top: 74,
          width: 1859,
          height: 461,
          border: `2px solid ${C.frame}`,
          pointerEvents: "none",
        }}
      />
      <div
        style={{
          position: "absolute",
          left: 24,
          top: 306,
          transform: "translate(-50%, -50%) rotate(-90deg)",
          fontFamily: FONT,
          fontSize: 17,
          color: C.axisText,
          whiteSpace: "nowrap",
        }}
      >
        Median z_F
      </div>
      <div
        style={{
          position: "absolute",
          left: 1028,
          top: 629,
          transform: "translate(-50%, -50%)",
          fontFamily: FONT,
          fontSize: 17,
          color: C.axisText,
          whiteSpace: "nowrap",
        }}
      >
        Date [UTC]
      </div>
    </div>
  );
}
